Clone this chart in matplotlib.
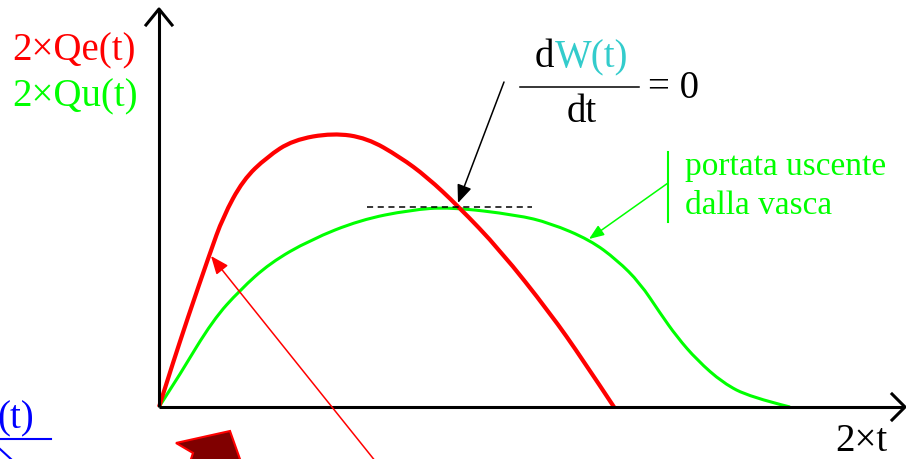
import matplotlib.pyplot as plt
import numpy as np
from matplotlib.patches import Polygon, PathPatch
from matplotlib.path import Path

plt.rcParams['font.family'] = 'serif'
plt.rcParams['font.serif'] = ['Liberation Serif', 'Times New Roman', 'DejaVu Serif']

# Curves: time from the origin, flow upwards (pixels)
t_in = [0, 14, 28, 51, 64, 84, 108, 134, 174, 208, 241, 268, 299, 341, 391,
        424, 455]
q_in = [0, 44, 87, 154, 190, 227, 250, 267, 274, 269, 250, 230, 201, 157, 94,
        47, 0]

t_out = [0, 21, 54, 81, 111, 151, 201, 251, 291, 358, 391, 431, 458, 481, 501,
         518, 538, 564, 591, 631]
q_out = [0, 33, 87, 117, 144, 167, 187, 197, 200, 192, 184, 167, 147, 124, 94,
         70, 47, 24, 10, 0]

# dashed tangent at the peak of the outgoing flow
tangent_t = [208, 373]
tangent_q = 200

X0, Y0 = 159, 407  # origin of the axes in the picture


def smooth_path(t, q):
    # quadratic bezier through the midpoints, read points used as control points
    pts = np.column_stack([X0 + np.array(t, float), Y0 - np.array(q, float)])
    verts = [pts[0], pts[1], (pts[1] + pts[2]) / 2]
    codes = [Path.MOVETO, Path.LINETO, Path.LINETO]
    for i in range(2, len(pts) - 2):
        verts += [pts[i], (pts[i] + pts[i + 1]) / 2]
        codes += [Path.CURVE3, Path.CURVE3]
    verts += [pts[-2], pts[-1]]
    codes += [Path.CURVE3, Path.CURVE3]
    return Path(verts, codes)


fig = plt.figure(figsize=(9.06, 4.59), dpi=100)
ax = fig.add_axes([0, 0, 1, 1])
ax.set_xlim(0, 906)
ax.set_ylim(459, 0)
ax.axis('off')

# axes with open arrow heads
ax.plot([X0, X0], [Y0, 9], color='black', lw=2.2, solid_capstyle='butt')
ax.plot([X0, 904], [Y0, Y0], color='black', lw=2.2, solid_capstyle='butt')
ax.plot([146, X0, 172], [25, 9, 25], color='black', lw=2.2)
ax.plot([892, 905, 892], [394, Y0, 420], color='black', lw=2.2)

# curves
ax.add_patch(PathPatch(smooth_path(t_out, q_out), fill=False, edgecolor='#00ff00',
                       lw=2.2, joinstyle='round', capstyle='butt'))
ax.add_patch(PathPatch(smooth_path(t_in, q_in), fill=False, edgecolor='#ff0000',
                       lw=3.0, joinstyle='round', capstyle='butt'))

ax.plot(X0 + np.array(tangent_t), [Y0 - tangent_q] * 2, color='black', lw=1.1,
        linestyle=(0, (4, 3)))

# axis labels
ax.text(12, 60, '2×Qe(t)', color='#ff0000', fontsize=28, va='baseline')
ax.text(12, 106, '2×Qu(t)', color='#00ff00', fontsize=28, va='baseline')
ax.text(835, 451, '2×t', color='black', fontsize=28, va='baseline')

# dW/dt = 0
ax.text(535, 67, 'd', color='black', fontsize=28, va='baseline')
ax.text(555, 67, 'W(t)', color='#33cccc', fontsize=28, va='baseline')
ax.plot([520, 639], [87, 87], color='black', lw=1.1)
ax.text(582, 122, 'dt', color='black', fontsize=28, va='baseline', ha='center')
ax.text(648, 98, '= 0', color='black', fontsize=28, va='baseline')
ax.annotate('', xy=(458, 203), xytext=(504, 82),
            arrowprops=dict(arrowstyle='-|>,head_length=1.1,head_width=0.45',
                            color='black', lw=1.1, shrinkA=0, shrinkB=0))

# outgoing flow note
ax.plot([668, 668], [152, 222], color='#00ff00', lw=1.5)
ax.annotate('', xy=(589, 239), xytext=(668, 183),
            arrowprops=dict(arrowstyle='-|>,head_length=0.9,head_width=0.35',
                            color='#00ff00', lw=1.1, shrinkA=0, shrinkB=0))
ax.text(685, 175, 'portata uscente', color='#00ff00', fontsize=24, va='baseline')
ax.text(685, 214, 'dalla vasca', color='#00ff00', fontsize=24, va='baseline')

# red pointer from below
ax.annotate('', xy=(211, 256), xytext=(376, 462),
            arrowprops=dict(arrowstyle='-|>,head_length=1.1,head_width=0.45',
                            color='#ff0000', lw=1.1, shrinkA=0, shrinkB=0))

# dark red block arrow cut by the border
ax.add_patch(Polygon([(176, 443), (230, 431), (241, 462), (190, 462), (193, 453)],
                     closed=True, facecolor='#800000', edgecolor='#ff0000', lw=1.5))

# clipped blue fraction at the left border
ax.text(34, 428, '(t)', color='#0000ff', fontsize=28, va='baseline', ha='right')
ax.plot([0, 51], [439, 439], color='#0000ff', lw=1.5)
ax.plot([0, 12], [449, 460], color='#0000ff', lw=1.5)

fig.savefig('out.png', dpi=100)
